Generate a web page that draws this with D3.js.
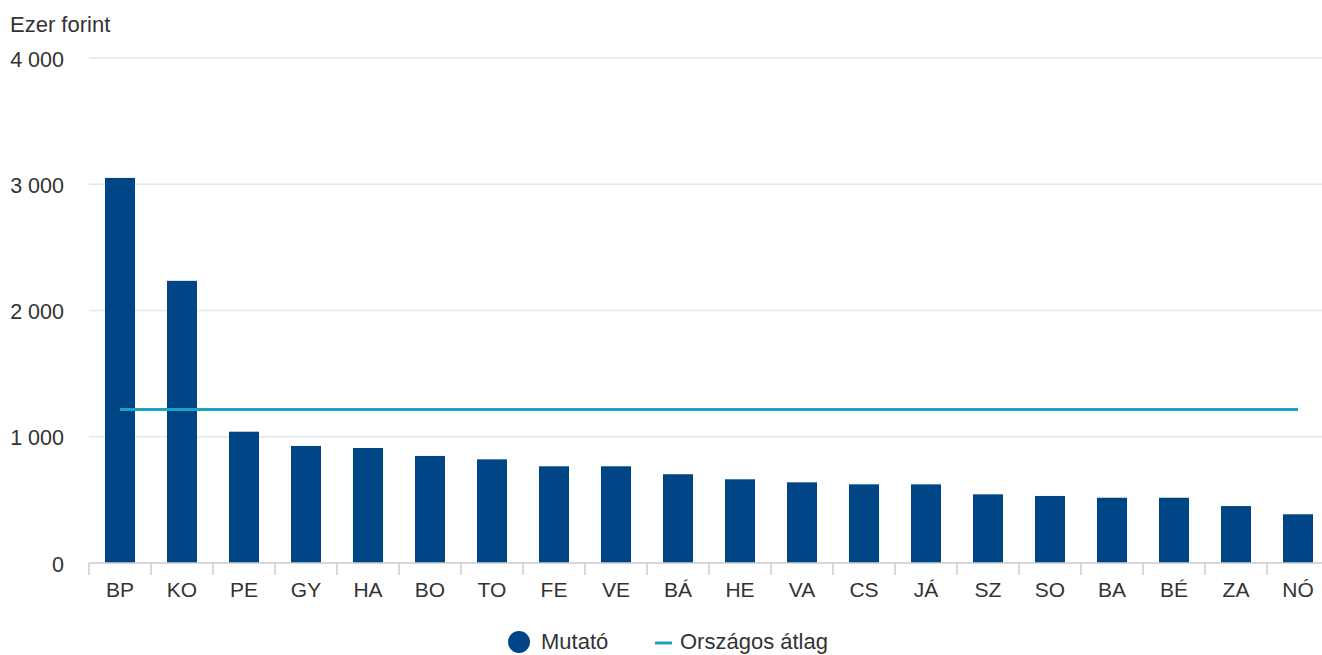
<!DOCTYPE html>
<html><head><meta charset="utf-8">
<script src="https://cdn.jsdelivr.net/npm/d3@7"></script>
<style>
html,body{margin:0;padding:0;background:#fff;overflow:hidden}
svg{display:block;font-family:"Liberation Sans",Arial,sans-serif}
</style></head><body>
<svg id="chart" width="1322" height="655"></svg>
<script>
const categories = ["BP","KO","PE","GY","HA","BO","TO","FE","VE","BÁ","HE","VA","CS","JÁ","SZ","SO","BA","BÉ","ZA","NÓ"];
const values = [3050,2235,1040,927,911,848,821,766,766,703,663,639,623,623,544,531,517,517,451,386];
const average = 1216;
const yTicks = [0,1000,2000,3000,4000];
const yTitle = "Ezer forint";
const legendLabels = ["Mutató","Országos átlag"];

const svg = d3.select("#chart");
const plotLeft = 89, step = 62, plotTop = 58, plotBottom = 563;
const x = d3.scaleBand().domain(categories).range([plotLeft, plotLeft + step*categories.length]).paddingInner(0.516).paddingOuter(0.258);
const y = d3.scaleLinear().domain([0,4000]).range([plotBottom, plotTop]);
const fmt = v => d3.format(",")(v).replace(/,/g, " ");

// gridlines
svg.append("g").selectAll("line").data(yTicks.filter(d=>d>0)).join("line")
  .attr("x1", plotLeft).attr("x2", 1322).attr("y1", d=>y(d)).attr("y2", d=>y(d))
  .attr("stroke", "#e6e6e6").attr("stroke-width", 1.5);

// y labels
svg.append("g").selectAll("text").data(yTicks).join("text")
  .attr("x", 64).attr("y", d=>y(d)+1).attr("dy","0.35em").attr("text-anchor","end")
  .attr("font-size", 21.5).attr("fill","#333").text(fmt);

svg.append("text").attr("x", 10).attr("y", 24).attr("dy","0.35em")
  .attr("font-size", 22).attr("fill","#333").text(yTitle);

// bars
svg.append("g").selectAll("rect").data(values).join("rect")
  .attr("x", (d,i)=>x(categories[i])).attr("width", x.bandwidth())
  .attr("y", d=>y(d)).attr("height", d=>y(0)-y(d))
  .attr("fill", "#004586");

// x axis
const gx = svg.append("g").attr("transform", `translate(0,${plotBottom})`);
gx.append("line").attr("x1", plotLeft).attr("x2", 1322).attr("y1",0).attr("y2",0).attr("stroke","#cccccc").attr("stroke-width",1.5);
gx.selectAll(".tk").data(d3.range(categories.length+1)).join("line").attr("class","tk")
  .attr("x1", i=>plotLeft+i*step).attr("x2", i=>plotLeft+i*step).attr("y1",0).attr("y2",12)
  .attr("stroke","#cccccc").attr("stroke-width",1.5);
gx.selectAll("text").data(categories).join("text")
  .attr("x", d=>x(d)+x.bandwidth()/2).attr("y", 27).attr("dy","0.35em")
  .attr("text-anchor","middle").attr("font-size",21).attr("fill","#333").text(d=>d);

// average line
const cx = c => x(c) + x.bandwidth()/2;
svg.append("line")
  .attr("x1", cx(categories[0])).attr("x2", cx(categories[categories.length-1]))
  .attr("y1", y(average)).attr("y2", y(average))
  .attr("stroke", "#1aa3c4").attr("stroke-width", 3);

// legend
const lg = svg.append("g");
lg.append("circle").attr("cx", 519).attr("cy", 642).attr("r", 11).attr("fill","#004586");
lg.append("text").attr("x", 541).attr("y", 641).attr("dy","0.35em").attr("font-size",22).attr("fill","#333").text(legendLabels[0]);
lg.append("line").attr("x1",655).attr("x2",672).attr("y1",643).attr("y2",643).attr("stroke","#1aa3c4").attr("stroke-width",3);
lg.append("text").attr("x", 680).attr("y", 641).attr("dy","0.35em").attr("font-size",22).attr("fill","#333").text(legendLabels[1]);
</script>
</body></html>
